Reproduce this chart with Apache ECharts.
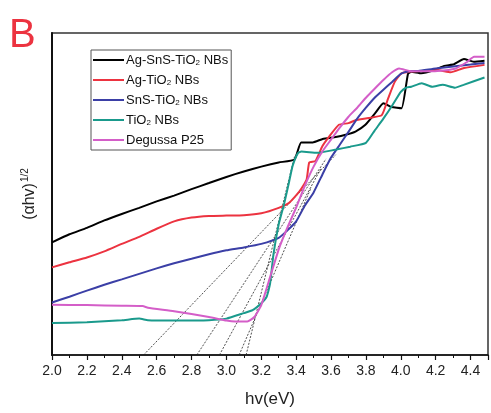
<!DOCTYPE html>
<html>
<head>
<meta charset="utf-8">
<script src="https://cdn.jsdelivr.net/npm/echarts@6/dist/echarts.min.js"></script>
<style>
html,body{margin:0;padding:0;background:#fff;}
#chart{width:491px;height:413px;}
</style>
</head>
<body>
<div id="chart"></div>
<script>
// Series names
const seriesNames = ['Ag-SnS-TiO2 NBs', 'Ag-TiO2 NBs', 'SnS-TiO2 NBs', 'TiO2 NBs', 'Degussa P25'];
const seriesColors = ['#000000', '#ec3340', '#3b3fa6', '#1a9a8c', '#d45ec8'];

// x ticks
const xTickLabels = ['2.0','2.2','2.4','2.6','2.8','3.0','3.2','3.4','3.6','3.8','4.0','4.2','4.4'];

// [hv (eV), (αhv)^1/2 arbitrary units]
const agSnsTio2 = [
  [2.0,35.0],[2.1,37.5],[2.2,39.5],[2.3,41.8],[2.4,43.8],[2.5,45.7],[2.6,47.7],[2.7,49.5],
  [2.8,51.5],[2.9,53.4],[3.0,55.3],[3.1,57.0],[3.2,58.5],[3.3,59.8],[3.39,60.7],[3.429,66.0],
  [3.495,66.0],[3.552,67.1],[3.627,67.7],[3.684,68.4],[3.740,69.4],[3.797,71.5],[3.853,75.1],
  [3.900,78.2],[3.947,77.0],[4.004,76.6],[4.041,87.3],[4.060,88.0],[4.117,87.5],[4.192,88.5],
  [4.249,89.8],[4.305,90.3],[4.362,91.9],[4.418,91.1],[4.48,91.4]
];
const agTio2 = [
  [2.0,27.2],[2.1,28.8],[2.2,30.3],[2.3,32.2],[2.4,34.5],[2.5,36.7],[2.6,39.2],[2.7,41.5],
  [2.8,42.7],[2.9,43.2],[3.0,43.3],[3.1,43.4],[3.2,44.0],[3.3,45.7],[3.36,47.3],[3.42,50.9],
  [3.46,54.5],[3.475,59.8],[3.51,60.2],[3.55,64.8],[3.59,67.9],[3.645,71.5],[3.70,72.0],
  [3.740,72.9],[3.815,73.6],[3.891,74.5],[3.928,79.8],[3.966,84.9],[4.004,87.5],[4.051,88.0],
  [4.117,88.2],[4.211,88.5],[4.286,87.8],[4.362,89.1],[4.48,90.1]
];
const snsTio2 = [
  [2.0,16.3],[2.1,18.1],[2.2,20.0],[2.3,21.8],[2.4,23.5],[2.5,25.2],[2.6,26.9],[2.7,28.5],
  [2.8,29.9],[2.9,31.3],[3.0,32.5],[3.1,33.4],[3.2,34.5],[3.3,36.4],[3.35,38.7],[3.4,41.5],
  [3.45,46.4],[3.5,50.5],[3.55,56.0],[3.6,61.3],[3.65,65.3],[3.7,69.3],[3.75,73.4],[3.8,76.8],
  [3.85,79.9],[3.9,82.4],[3.95,84.8],[4.0,87.3],[4.05,88.1],[4.1,88.2],[4.2,89.0],[4.3,89.6],
  [4.4,90.2],[4.48,90.7]
];
const tio2 = [
  [2.0,9.9],[2.2,10.2],[2.4,10.8],[2.5,11.3],[2.55,10.8],[2.7,10.7],[2.9,10.8],[3.0,11.3],
  [3.1,13.0],[3.15,13.9],[3.2,16.1],[3.23,18.0],[3.25,22.0],[3.27,31.3],[3.3,40.6],[3.33,46.7],
  [3.36,53.9],[3.38,58.8],[3.41,62.7],[3.43,63.2],[3.52,62.8],[3.55,63.0],[3.63,63.8],[3.71,64.7],
  [3.8,65.9],[3.85,69.7],[3.9,73.4],[3.95,77.4],[4.0,81.7],[4.03,83.0],[4.06,83.3],[4.12,84.4],
  [4.18,83.3],[4.24,83.9],[4.31,83.0],[4.36,83.9],[4.48,86.2]
];
const degussaP25 = [
  [2.0,15.6],[2.2,15.5],[2.4,15.3],[2.52,15.2],[2.55,14.7],[2.7,13.6],[2.9,11.8],[3.0,10.7],
  [3.05,10.4],[3.12,10.4],[3.16,11.8],[3.2,15.5],[3.25,24.1],[3.3,32.8],[3.35,39.6],[3.4,45.8],
  [3.45,52.6],[3.5,58.5],[3.55,63.2],[3.6,66.9],[3.65,70.6],[3.7,74.0],[3.75,76.8],[3.8,79.9],
  [3.85,82.7],[3.9,85.4],[3.95,87.8],[3.99,89.0],[4.05,88.2],[4.12,88.1],[4.21,88.2],[4.31,88.9],
  [4.38,91.0],[4.42,92.6],[4.48,92.6]
];
// tangent (extrapolation) lines: [x-intercept, end point]
const tangentA = [[2.525,0],[3.627,62.2]];
const tangentB = [[2.83,0],[3.571,60.9]];
const tangentC = [[2.96,0],[3.542,57.9]];
const tangentD = [[3.073,0],[3.486,52.0]];
const tangentE = [[3.113,0],[3.39,61.6]];

const seriesData = [agSnsTio2, agTio2, snsTio2, tio2, degussaP25];
const tangents = [tangentA, tangentB, tangentC, tangentD, tangentE];

const chart = echarts.init(document.getElementById('chart'), null, {renderer: 'canvas'});
const FONT = 'Liberation Sans, Arial, sans-serif';

const series = [];
tangents.forEach(function (t, i) {
  series.push({
    name: 'tangent' + i, type: 'line', data: t, symbol: 'none', silent: true,
    lineStyle: {color: '#222', width: 0.8, type: [2, 1.5]}, z: 1
  });
});
seriesData.forEach(function (d, i) {
  series.push({
    name: seriesNames[i], type: 'line', data: d, symbol: 'none', smooth: 0.15,
    lineStyle: {color: seriesColors[i], width: 2}, itemStyle: {color: seriesColors[i]}, z: 2 + i
  });
});

chart.setOption({
  animation: false,
  backgroundColor: '#fff',
  grid: {left: 52, top: 33, bottom: 57, right: -3.5, show: true, borderColor: '#333', borderWidth: 1.5, containLabel: false},
  xAxis: {
    type: 'value', min: 2.0, max: 4.5, interval: 0.2,
    axisLine: {show: true, onZero: false, lineStyle: {color: '#111', width: 1.5}},
    axisTick: {show: true, inside: false, length: 5, lineStyle: {color: '#111', width: 1.2}},
    minorTick: {show: true, splitNumber: 2, length: 3, lineStyle: {color: '#111', width: 1}},
    splitLine: {show: false},
    axisLabel: {
      margin: 9, fontFamily: FONT, fontSize: 14, color: '#222',
      formatter: function (v) {
        const s = v.toFixed(1);
        return xTickLabels.indexOf(s) >= 0 && Math.abs(v - parseFloat(s)) < 1e-6 ? s : '';
      }
    },
    name: 'hv(eV)', nameLocation: 'middle', nameGap: 36,
    nameTextStyle: {fontFamily: FONT, fontSize: 17, color: '#222'}
  },
  yAxis: {
    type: 'value', min: 0, max: 100,
    axisLine: {show: true, lineStyle: {color: '#111', width: 2}},
    axisTick: {show: false}, axisLabel: {show: false}, splitLine: {show: false},
    name: '(αhv){sup|1/2}', nameLocation: 'middle', nameGap: 12, nameRotate: 90,
    nameTextStyle: {
      fontFamily: FONT, fontSize: 16, color: '#222',
      rich: {sup: {fontFamily: FONT, fontSize: 10, color: '#222', verticalAlign: 'top', padding: [0, 0, 10, 1]}}
    }
  },
  legend: {
    data: seriesNames, orient: 'vertical', left: 91, top: 50,
    icon: 'rect', itemWidth: 31, itemHeight: 2, itemGap: 6,
    padding: [3, 3, 3, 2], borderColor: '#555', borderWidth: 1,
    selectedMode: false,
    formatter: function (n) { return n.replace('TiO2', 'TiO{sub|2}'); },
    textStyle: {
      fontFamily: FONT, fontSize: 13, color: '#111', lineHeight: 14, padding: [0, 0, 0, -3],
      rich: {sub: {fontFamily: FONT, fontSize: 8, color: '#111', verticalAlign: 'bottom', padding: [6, 0, 0, 0]}}
    }
  },
  graphic: [{
    type: 'text', left: 9, top: 16,
    style: {text: 'B', fontFamily: FONT, fontSize: 40, fill: '#ec3340'}
  }],
  series: series
});
</script>
</body>
</html>
